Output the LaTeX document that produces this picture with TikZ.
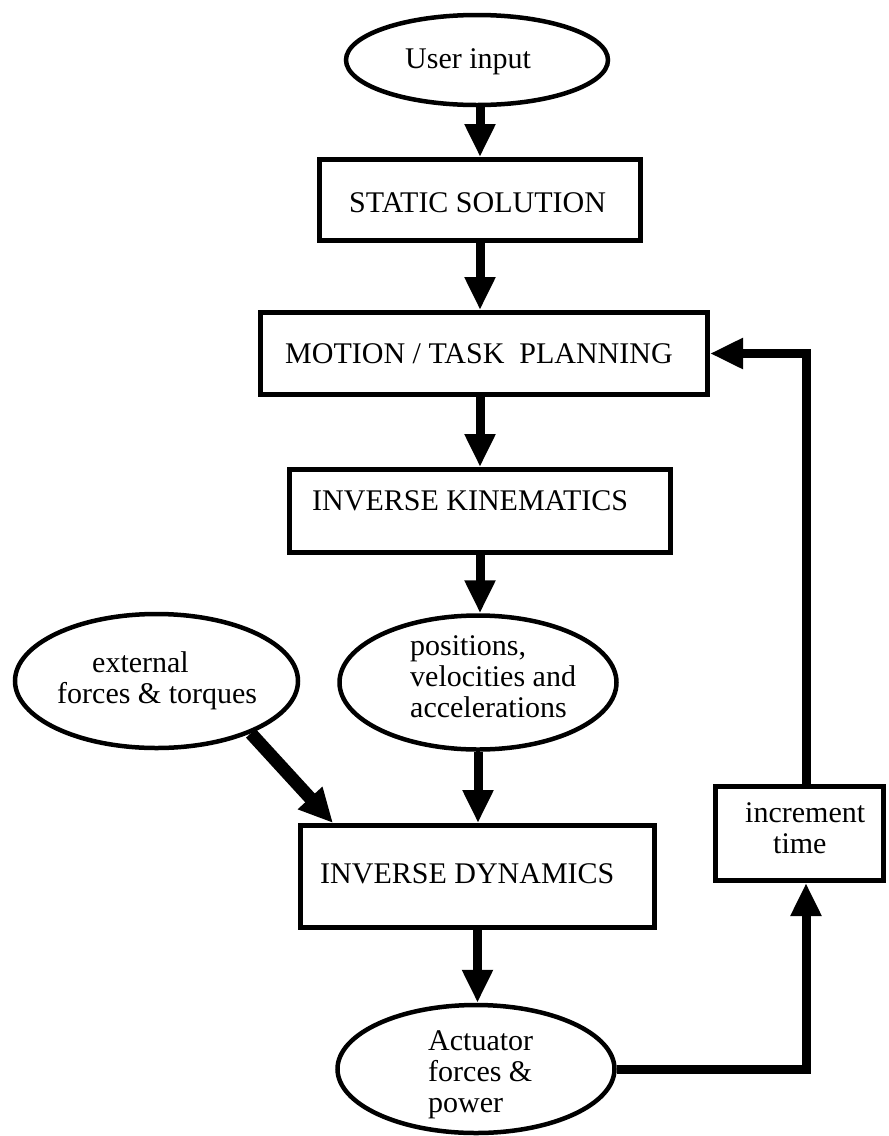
\documentclass[tikz,border=0pt]{standalone}
\usepackage{fontspec}
\setmainfont{Liberation Serif}
\usetikzlibrary{shapes.geometric,arrows.meta}

\begin{document}
\begin{tikzpicture}[x=1pt,y=-1pt,
  txt/.style={font=\fontsize{30}{31}\selectfont, inner sep=0pt, anchor=base west},
  stepbox/.style={draw, rectangle, line width=5pt, inner sep=0pt},
  oval/.style={draw, ellipse, line width=4.5pt, inner sep=0pt},
  flow/.style={line width=9pt, -{Triangle[length=33pt,width=29pt]}},
  heavyflow/.style={line width=13pt, -{Triangle[length=34pt,width=31pt]}}
]
\useasboundingbox (0,0) rectangle (889,1136);

% frames
\node[oval, minimum width=262pt, minimum height=90pt] (user) at (477,60) {};
\node[stepbox, minimum width=321pt, minimum height=81pt] (static) at (480,200) {};
\node[stepbox, minimum width=447pt, minimum height=82pt] (motion) at (484,353.5) {};
\node[stepbox, minimum width=381pt, minimum height=83pt] (ik) at (480,511) {};
\node[oval, minimum width=277pt, minimum height=134pt] (positions) at (478,682.5) {};
\node[oval, minimum width=283pt, minimum height=134pt] (external) at (156.5,681) {};
\node[stepbox, minimum width=354pt, minimum height=102pt] (id) at (477.5,876.5) {};
\node[stepbox, minimum width=168pt, minimum height=94pt] (increment) at (799.5,833.5) {};
\node[oval, minimum width=277pt, minimum height=128pt] (actuator) at (476,1069) {};

% labels
\node[txt] (userlbl) at (405,68) {User input};
\node[txt] (staticlbl) at (349,212) {STATIC SOLUTION};
\node[txt] (motionlbl) at (285,363) {MOTION / TASK\ \ PLANNING};
\node[txt] (iklbl) at (312,510) {INVERSE KINEMATICS};
\node[txt] (idlbl) at (320,883) {INVERSE DYNAMICS};

\node[txt] (ext1) at (92,672) {external};
\node[txt] (ext2) at (57,703) {forces \& torques};

\node[txt] (pos1) at (410,655) {positions,};
\node[txt] (pos2) at (410,686) {velocities and};
\node[txt] (pos3) at (410,717) {accelerations};

\node[txt] (inc1) at (745,822) {increment};
\node[txt] (inc2) at (773,853) {time};

\node[txt] (act1) at (428,1050) {Actuator};
\node[txt] (act2) at (428,1081) {forces \&};
\node[txt] (act3) at (428,1112) {power};

% main chain
\draw[flow] (static.north |- user.south) -- (static.north);
\draw[flow] (static.south) -- (static.south |- motion.north);
\draw[flow] (ik.north |- motion.south) -- (ik.north);
\draw[flow] (ik.south) -- (ik.south |- positions.north);
\draw[flow] (positions.south) -- (positions.south |- id.north);
\draw[flow] (id.south) -- (id.south |- actuator.north);

% external load input
\coordinate (idtip) at ([xshift=35pt]id.north west);
\draw[heavyflow] (external.-29) -- (idtip);

% time-step loop
\draw[flow] (actuator.east) -| ([xshift=6.5pt]increment.south);
\draw[flow] ([xshift=6.5pt]increment.north) |- (motion.east);
\end{tikzpicture}
\end{document}
